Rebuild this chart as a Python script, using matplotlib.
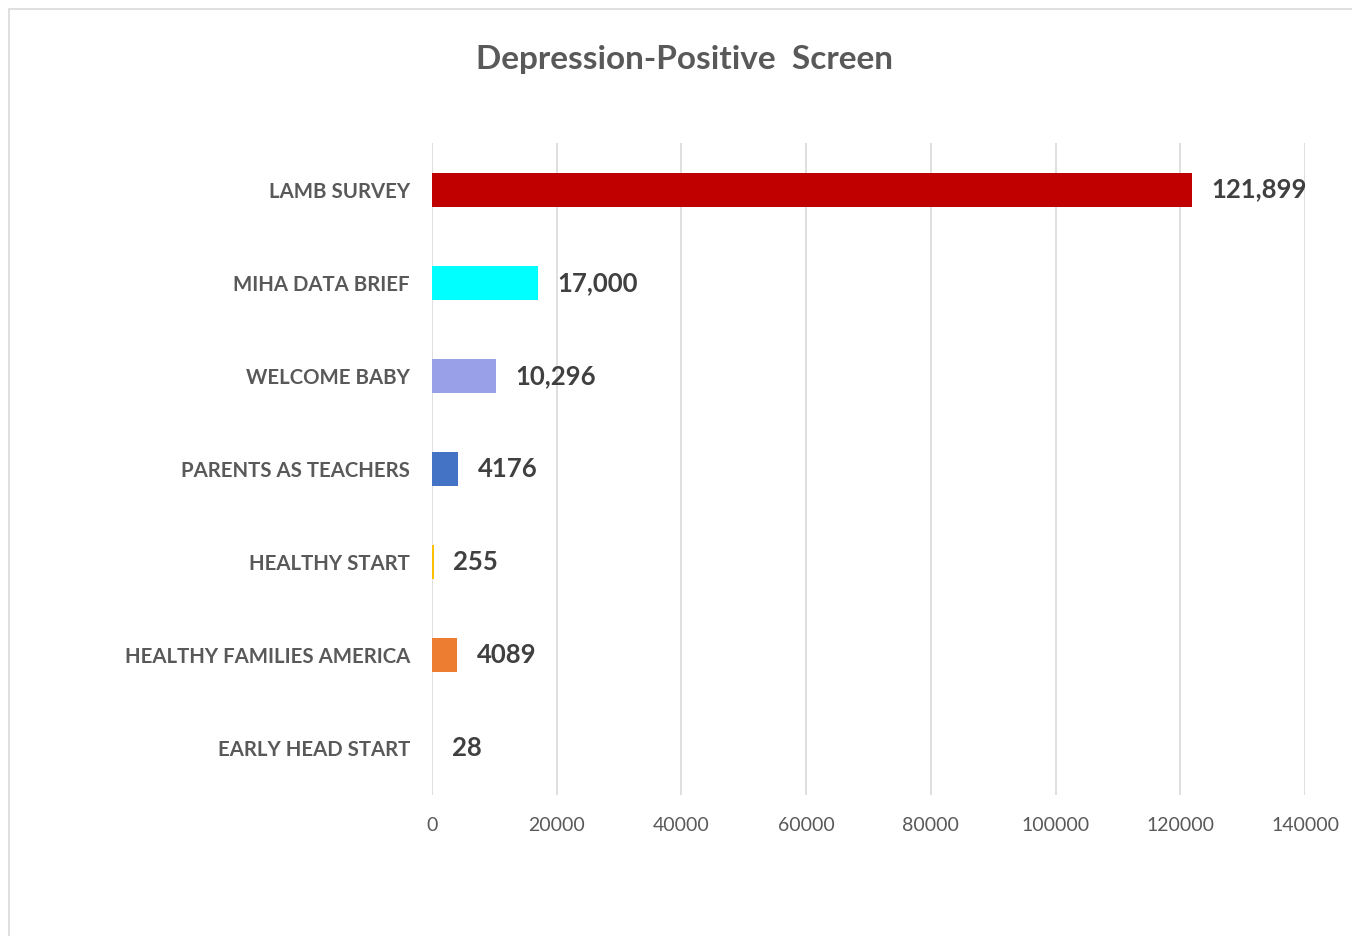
import matplotlib.pyplot as plt
from matplotlib.patches import Rectangle

categories = ['LAMB SURVEY', 'MIHA DATA BRIEF', 'WELCOME BABY', 'PARENTS AS TEACHERS',
              'HEALTHY START', 'HEALTHY FAMILIES AMERICA', 'EARLY HEAD START']
values = [121899, 17000, 10296, 4176, 255, 4089, 28]
value_labels = ['121,899', '17,000', '10,296', '4176', '255', '4089', '28']
colors = ['#C00000', '#00FFFF', '#99A0E8', '#4472C4', '#FFC000', '#ED7D31', '#5B9BD5']
xticks = [0, 20000, 40000, 60000, 80000, 100000, 120000, 140000]

plt.rcParams['font.family'] = ['Lato', 'DejaVu Sans']

fig = plt.figure(figsize=(13.52, 9.36), dpi=100)
# chart frame (extends beyond the image on the right and bottom)
fig.patches.append(Rectangle((9 / 1352, -0.1), 1.2, 1.1 - 9 / 936,
                             transform=fig.transFigure, fill=False,
                             edgecolor='#D9D9D9', linewidth=1.2))

ax = fig.add_axes([432 / 1352, 1 - 795 / 936, (1305 - 432) / 1352, (795 - 143) / 936])

y = list(range(len(categories)))
ax.barh(y, values, height=0.365, color=colors, zorder=3)
ax.set_ylim(len(categories) - 0.5, -0.5)
ax.set_xlim(0, 140000)
ax.set_yticks(y)
ax.set_yticklabels(categories, fontsize=14.7, fontweight='bold', color='#595959')
ax.set_xticks(xticks)
ax.set_xticklabels([str(t) for t in xticks], fontsize=14, color='#595959')
ax.tick_params(axis='y', length=0, pad=16)
ax.tick_params(axis='x', length=0, pad=16)
ax.grid(axis='x', color='#D9D9D9', linewidth=1.2, zorder=0)
for s in ax.spines.values():
    s.set_visible(False)

for yi, v, lab in zip(y, values, value_labels):
    ax.annotate(lab, (v, yi), xytext=(14, 0), textcoords='offset points',
                ha='left', va='center', fontsize=18.5, fontweight='bold',
                color='#404040')

fig.text(685 / 1352, 1 - 60 / 936, 'Depression-Positive  Screen', ha='center', va='center',
         fontsize=24, fontweight='bold', color='#595959')

fig.savefig('out.png', dpi=100)
